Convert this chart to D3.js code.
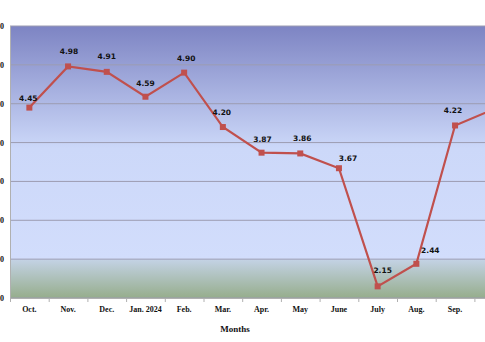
<!DOCTYPE html>
<html><head><meta charset="utf-8">
<script src="https://cdn.jsdelivr.net/npm/d3@7"></script>
<style>body{margin:0;background:#fff}svg{display:block}</style>
</head><body>
<script>
const months = ["Oct.","Nov.","Dec.","Jan. 2024","Feb.","Mar.","Apr.","May","June","July","Aug.","Sep.","Oct."];
const values = [4.45,4.98,4.91,4.59,4.90,4.20,3.87,3.86,3.67,2.15,2.44,4.22,4.43];
const labels = ["4.45","4.98","4.91","4.59","4.90","4.20","3.87","3.86","3.67","2.15","2.44","4.22","4.43"];
const yTicks = [2.0,2.5,3.0,3.5,4.0,4.5,5.0,5.5];

(function(){
const W=485,H=342;
const svg=d3.select("body").append("svg").attr("width",W).attr("height",H);
const pL=10, pT=26, pB=298, band=38.7;
const x=d3.scaleBand().domain(d3.range(months.length)).range([pL,pL+band*months.length]);
const y=d3.scaleLinear().domain([2,5.5]).range([pB,pT]);
const pR=x.range()[1];

const defs=svg.append("defs");
const g=defs.append("linearGradient").attr("id","bg").attr("x1",0).attr("y1",0).attr("x2",0).attr("y2",1);
[[0,"#7d84c3"],[0.45,"#ccd8f9"],[0.857,"#d2ddfc"],[0.86,"#c3d2e4"],[1,"#96ad8c"]].forEach(s=>g.append("stop").attr("offset",s[0]).attr("stop-color",s[1]));
svg.append("rect").attr("x",pL).attr("y",pT).attr("width",pR-pL).attr("height",pB-pT).attr("fill","url(#bg)");

svg.append("g").selectAll("line").data(yTicks).join("line")
 .attr("x1",pL).attr("x2",pR).attr("y1",d=>y(d)).attr("y2",d=>y(d))
 .attr("stroke","#9c9cb2").attr("stroke-width",1);

svg.append("line").attr("x1",pL+0.5).attr("x2",pL+0.5).attr("y1",pT).attr("y2",pB).attr("stroke","#b0b0b0");
svg.append("line").attr("x1",pL).attr("x2",pR).attr("y1",pB+0.5).attr("y2",pB+0.5).attr("stroke","#b0b0b0");

svg.append("g").selectAll("text").data(yTicks).join("text")
 .attr("x",4).attr("y",d=>y(d)+3).attr("text-anchor","end")
 .attr("font-family","Liberation Serif").attr("font-weight","bold").attr("font-size",8).attr("fill","#111")
 .text(d=>d.toFixed(2));

svg.append("g").selectAll("line").data(d3.range(months.length+1)).join("line")
 .attr("x1",i=>pL+i*band+0.5).attr("x2",i=>pL+i*band+0.5).attr("y1",pB).attr("y2",pB+4)
 .attr("stroke","#b0b0b0");

svg.append("g").selectAll("text").data(months).join("text")
 .attr("x",(d,i)=>x(i)+x.bandwidth()/2).attr("y",312).attr("text-anchor","middle")
 .attr("font-family","Liberation Serif").attr("font-weight","bold").attr("font-size",8).attr("fill","#111")
 .text(d=>d);

svg.append("text").attr("x",235).attr("y",332).attr("text-anchor","middle")
 .attr("font-family","Liberation Serif").attr("font-weight","bold").attr("font-size",9).attr("fill","#111").text("Months");

const cx=i=>x(i)+x.bandwidth()/2;
svg.append("path").datum(values)
 .attr("d",d3.line().x((d,i)=>cx(i)).y(d=>y(d)))
 .attr("fill","none").attr("stroke","#c0504d").attr("stroke-width",2.2);

svg.append("g").selectAll("rect").data(values).join("rect")
 .attr("x",(d,i)=>cx(i)-3).attr("y",d=>y(d)-3).attr("width",6).attr("height",6).attr("fill","#c0504d");

const dx=[-1,1,0,0,2,-1,1,2,9,5,14,-2,8];
const dy=[-7,-12,-13,-11,-12,-12,-11,-12,-7,-13,-11,-12,-12];
svg.append("g").selectAll("text").data(labels).join("text")
 .attr("x",(d,i)=>cx(i)+dx[i]).attr("y",(d,i)=>y(values[i])+dy[i]).attr("text-anchor","middle")
 .attr("font-family","DejaVu Sans").attr("font-weight","bold").attr("font-size",7.5).attr("fill","#111")
 .text(d=>d);
})();
</script>
</body></html>
